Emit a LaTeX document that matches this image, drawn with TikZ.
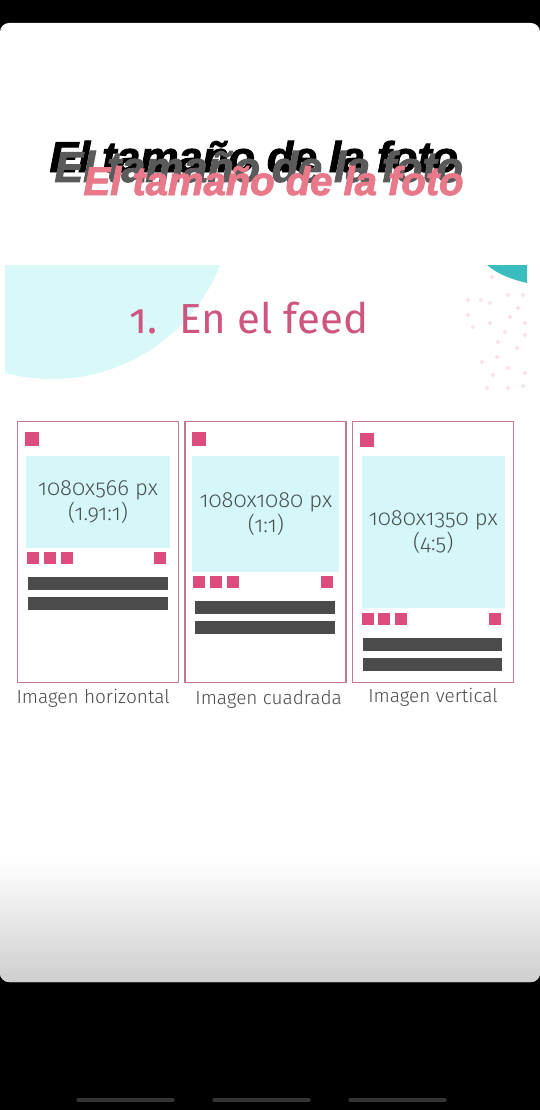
\documentclass[tikz,border=0pt]{standalone}
\usepackage{fontspec}
\setmainfont{Fira Sans}[Numbers=OldStyle]
\newfontfamily\lightfont{Fira Sans Light}[Numbers=OldStyle]
\newfontfamily\titlefont{Liberation Sans}[BoldItalicFeatures={FakeBold=2.2}]
\usetikzlibrary{positioning, calc}

\definecolor{feedpink}{HTML}{CF5581}
\definecolor{titlepink}{HTML}{E8798A}
\definecolor{titlegray}{HTML}{5A5A5A}
\definecolor{framepink}{HTML}{C27A93}
\definecolor{iconpink}{HTML}{DC4D7E}
\definecolor{photocyan}{HTML}{D6F7F9}
\definecolor{blobcyan}{HTML}{D9F8F8}
\definecolor{cornerteal}{HTML}{3BBCBF}
\definecolor{bargray}{HTML}{4B4B4B}
\definecolor{sizegray}{HTML}{46504F}
\definecolor{labelgray}{HTML}{4A4A4A}
\definecolor{dotpink}{HTML}{F8E4E6}
\definecolor{navgray}{HTML}{333333}

\begin{document}
\begin{tikzpicture}[
    x=1pt, y=-1pt,
    phone/.style={draw=framepink, line width=1.4pt, minimum width=161pt, minimum height=261pt, inner sep=0pt},
    sizetext/.style={align=center, text=sizegray, font=\lightfont\fontsize{22}{25}\selectfont},
    caption/.style={anchor=base, text=labelgray, font=\lightfont\fontsize{19}{22}\selectfont},
    title/.style={anchor=base west, font=\titlefont\bfseries\itshape\fontsize{43}{48}\selectfont}
]
% Screen and card
\useasboundingbox (0,0) rectangle (540,1110);
\fill[black] (0,0) rectangle (540,1110);
\fill[white, rounded corners=9pt] (0,23) rectangle (540,982);
\shade[top color=white, bottom color=gray!38] (0,860) {[rounded corners=9pt] -- (0,982) -- (540,982)} -- (540,860) -- cycle;
\draw[navgray, line width=3.5pt, line cap=round] (78,1100) -- (173,1100);
\draw[navgray, line width=3.5pt, line cap=round] (214,1100) -- (309,1100);
\draw[navgray, line width=3.5pt, line cap=round] (350,1100) -- (445,1100);

% Title, three layers
\node[title, black] (titleblack) at (46,172) {El tamaño de la foto};
\node[title, titlegray] (titlegray) at (51,182) {El tamaño de la foto};
\node[title, titlepink, font=\titlefont\bfseries\itshape\fontsize{40}{44}\selectfont] (titlepink) at (80,195) {El tamaño de la foto};

% Slide decorations
\begin{scope}
\clip (5,265) rectangle (527,700);
\fill[blobcyan] (52,198) circle (181pt);
\end{scope}
\fill[cornerteal] (487,265) .. controls (500,276) and (515,280) .. (527,283) -- (527,265) -- cycle;
\foreach \dx/\dy in {492/277, 468/300, 481/300, 490/303, 508/295, 523/295, 518/308, 468/315, 510/317,
                     473/327, 490/323, 525/323, 505/332, 525/335, 498/342, 517/348, 497/357, 482/362,
                     508/368, 493/375, 525/373, 487/388, 508/388, 523/386}
  \fill[dotpink] (\dx,\dy) circle (2pt);

\node[anchor=base west, text=feedpink, font=\fontsize{42}{46}\selectfont] (feed) at (126,333) {1.\ \ En el feed};

% Horizontal phone
\node[phone, anchor=north west] (hframe) at (17,421) {};
\fill[iconpink] ($(hframe.north west)+(8,11)$) rectangle ($(hframe.north west)+(22,25)$);
\fill[photocyan] ($(hframe.north west)+(9,35)$) rectangle ($(hframe.north west)+(153,127)$) coordinate (hphoto);
\node[sizetext] (hsize) at ($(hframe.north west)!0.5!(hphoto)+(4.5,17.5)$) {1080x566 px\\(1.91:1)};
\fill[iconpink] ($(hframe.north west)+(10,131)$) rectangle ++(12,12);
\fill[iconpink] ($(hframe.north west)+(27,131)$) rectangle ++(12,12);
\fill[iconpink] ($(hframe.north west)+(44,131)$) rectangle ++(12,12);
\fill[iconpink] ($(hframe.north west)+(137,131)$) rectangle ++(12,12);
\fill[bargray] ($(hframe.north west)+(11,156)$) rectangle ++(140,13);
\fill[bargray] ($(hframe.north west)+(11,176)$) rectangle ++(140,13);
\node[caption] (hlabel) at ($(hframe.south)+(-5,20)$) {Imagen horizontal};

% Square phone
\node[phone, right=5pt of hframe] (sframe) {};
\fill[iconpink] ($(sframe.north west)+(8,11)$) rectangle ($(sframe.north west)+(22,25)$);
\fill[photocyan] ($(sframe.north west)+(8,35)$) rectangle ($(sframe.north west)+(155,151)$);
\node[sizetext] (ssize) at ($(sframe.north west)+(81.5,93)$) {1080x1080 px\\(1:1)};
\fill[iconpink] ($(sframe.north west)+(9,155)$) rectangle ++(12,12);
\fill[iconpink] ($(sframe.north west)+(26,155)$) rectangle ++(12,12);
\fill[iconpink] ($(sframe.north west)+(43,155)$) rectangle ++(12,12);
\fill[iconpink] ($(sframe.north west)+(137,155)$) rectangle ++(12,12);
\fill[bargray] ($(sframe.north west)+(11,180)$) rectangle ++(140,13);
\fill[bargray] ($(sframe.north west)+(11,200)$) rectangle ++(140,13);
\node[caption] (slabel) at ($(sframe.south)+(3,21)$) {Imagen cuadrada};

% Vertical phone
\node[phone, right=5pt of sframe] (vframe) {};
\fill[iconpink] ($(vframe.north west)+(8,12)$) rectangle ($(vframe.north west)+(22,26)$);
\fill[photocyan] ($(vframe.north west)+(10,35)$) rectangle ($(vframe.north west)+(153,187)$);
\node[sizetext] (vsize) at ($(vframe.north west)+(81.5,111)$) {1080x1350 px\\(4:5)};
\fill[iconpink] ($(vframe.north west)+(10,192)$) rectangle ++(12,12);
\fill[iconpink] ($(vframe.north west)+(26,192)$) rectangle ++(12,12);
\fill[iconpink] ($(vframe.north west)+(43,192)$) rectangle ++(12,12);
\fill[iconpink] ($(vframe.north west)+(137,192)$) rectangle ++(12,12);
\fill[bargray] ($(vframe.north west)+(11,217)$) rectangle ++(139,13);
\fill[bargray] ($(vframe.north west)+(11,237)$) rectangle ++(139,13);
\node[caption] (vlabel) at ($(vframe.south)+(0,19)$) {Imagen vertical};
\end{tikzpicture}
\end{document}
